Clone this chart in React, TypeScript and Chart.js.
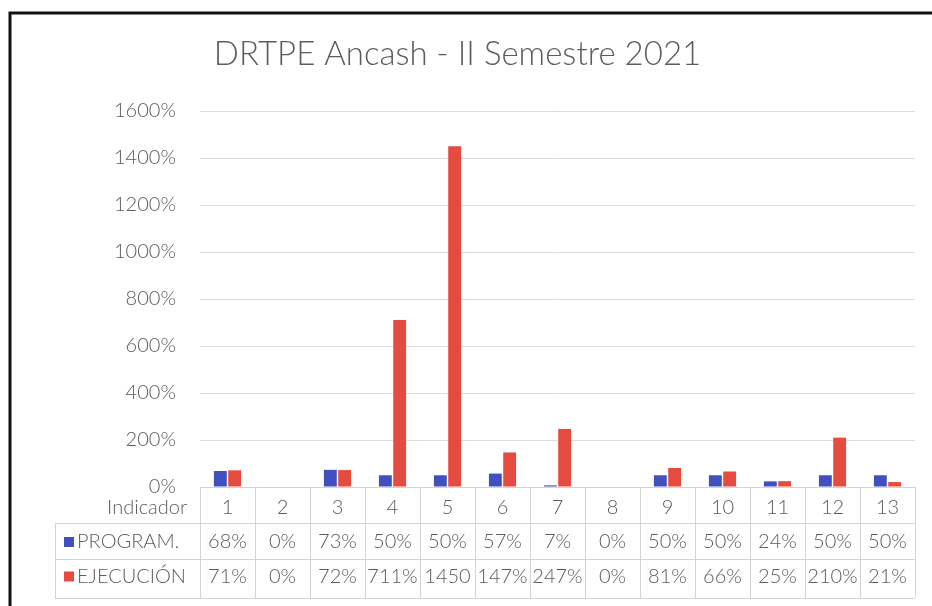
import React, { useEffect, useRef } from "react";
import { Chart, registerables } from "chart.js";

Chart.register(...registerables);

const titleText = "DRTPE Ancash - II Semestre 2021";
const categories = ["1", "2", "3", "4", "5", "6", "7", "8", "9", "10", "11", "12", "13"];
const programValues = [68, 0, 73, 50, 50, 57, 7, 0, 50, 50, 24, 50, 50];
const ejecucionValues = [71, 0, 72, 711, 1450, 147, 247, 0, 81, 66, 25, 210, 21];
const seriesNames = ["PROGRAM.", "EJECUCIÓN"];
const tableHeader = "Indicador";
const yMin = 0;
const yMax = 1600;
const yStep = 200;

const BLUE = "#4150BE";
const RED = "#E64B3F";
const TEXT = "#5c5c5c";
const LINE = "#d4d4d4";
const FONT = "Lato";
const TXT_SIZE = 20;

const W = 932;
const H = 606;

const tablePlugin = {
  id: "dataTable",
  beforeDraw(chart: any) {
    const ctx = chart.ctx;
    ctx.save();
    ctx.fillStyle = "#ffffff";
    ctx.fillRect(0, 0, chart.width, chart.height);
    ctx.restore();
  },
  afterDraw(chart: any) {
    const ctx = chart.ctx;
    const xs = chart.scales.x;
    const area = chart.chartArea;
    const n = categories.length;
    const cellW = xs.getPixelForValue(1) - xs.getPixelForValue(0);
    const left = xs.getPixelForValue(0) - cellW / 2;
    const right = xs.getPixelForValue(n - 1) + cellW / 2;
    const top = area.bottom;
    const r1 = top + 36;
    const r2 = r1 + 36;
    const bottom = r2 + 39;
    const labelLeft = 55;

    ctx.save();
    ctx.strokeStyle = LINE;
    ctx.lineWidth = 1;
    ctx.beginPath();
    ctx.moveTo(left, top + 0.5);
    ctx.lineTo(right, top + 0.5);
    [r1, r2, bottom].forEach((y) => {
      ctx.moveTo(labelLeft, y + 0.5);
      ctx.lineTo(right, y + 0.5);
    });
    for (let i = 0; i <= n; i++) {
      const x = Math.round(left + i * cellW) + 0.5;
      ctx.moveTo(x, top);
      ctx.lineTo(x, bottom);
    }
    ctx.moveTo(labelLeft + 0.5, r1);
    ctx.lineTo(labelLeft + 0.5, bottom);
    ctx.stroke();

    ctx.fillStyle = TEXT;
    ctx.font = `300 ${TXT_SIZE}px ${FONT}`;
    ctx.textBaseline = "middle";
    ctx.textAlign = "right";
    ctx.fillText(tableHeader, left - 13, (top + r1) / 2 + 3);
    ctx.textAlign = "center";
    categories.forEach((c, i) => {
      ctx.fillText(c, xs.getPixelForValue(i), (top + r1) / 2 + 3);
    });

    const fit = (t: string) => {
      let s = t;
      while (s.length > 1 && ctx.measureText(s).width > cellW + 1) s = s.slice(0, -1);
      return s;
    };

    const rows = [
      { name: seriesNames[0], color: BLUE, values: programValues, y: (r1 + r2) / 2 + 1 },
      { name: seriesNames[1], color: RED, values: ejecucionValues, y: (r2 + bottom) / 2 - 2 },
    ];
    rows.forEach((row) => {
      ctx.fillStyle = row.color;
      ctx.fillRect(64, row.y - 5, 10, 10);
      ctx.fillStyle = TEXT;
      ctx.textAlign = "left";
      ctx.fillText(row.name, 77, row.y);
      ctx.textAlign = "center";
      row.values.forEach((v, i) => {
        ctx.fillText(fit(v + "%"), xs.getPixelForValue(i), row.y);
      });
    });

    ctx.strokeStyle = "#111111";
    ctx.lineWidth = 3;
    ctx.beginPath();
    ctx.moveTo(10, H);
    ctx.lineTo(10, 13);
    ctx.lineTo(W, 13);
    ctx.stroke();
    ctx.restore();
  },
};

export default function App() {
  const ref = useRef<HTMLCanvasElement | null>(null);

  useEffect(() => {
    document.body.style.margin = "0";
    const canvas = ref.current;
    if (!canvas) return;
    const chart = new Chart(canvas, {
      type: "bar",
      data: {
        labels: categories,
        datasets: [
          {
            label: seriesNames[0],
            data: programValues,
            backgroundColor: BLUE,
            categoryPercentage: 0.52,
            barPercentage: 0.9,
          },
          {
            label: seriesNames[1],
            data: ejecucionValues,
            backgroundColor: RED,
            categoryPercentage: 0.52,
            barPercentage: 0.9,
          },
        ],
      },
      options: {
        responsive: false,
        animation: false,
        devicePixelRatio: 1,
        layout: { padding: { left: 0, right: 17, top: 0, bottom: 119 } },
        plugins: {
          legend: { display: false },
          tooltip: { enabled: false },
          title: {
            display: true,
            text: titleText,
            color: TEXT,
            font: { family: FONT, size: 33, weight: 300 },
            padding: { top: 35, bottom: 36.4 },
          },
        },
        scales: {
          x: {
            display: false,
          },
          y: {
            min: yMin,
            max: yMax,
            afterFit: (scale: any) => {
              scale.width = 200;
            },
            border: { display: false },
            grid: { color: "#dcdcdc", drawTicks: false },
            ticks: {
              stepSize: yStep,
              padding: 24,
              color: TEXT,
              font: { family: FONT, size: TXT_SIZE, weight: 300 },
              callback: (v: any) => v + "%",
            },
          },
        },
      },
      plugins: [tablePlugin],
    });
    return () => chart.destroy();
  }, []);

  return (
    <div style={{ width: W, height: H }}>
      <canvas ref={ref} width={W} height={H} style={{ width: W, height: H, display: "block" }} />
    </div>
  );
}
